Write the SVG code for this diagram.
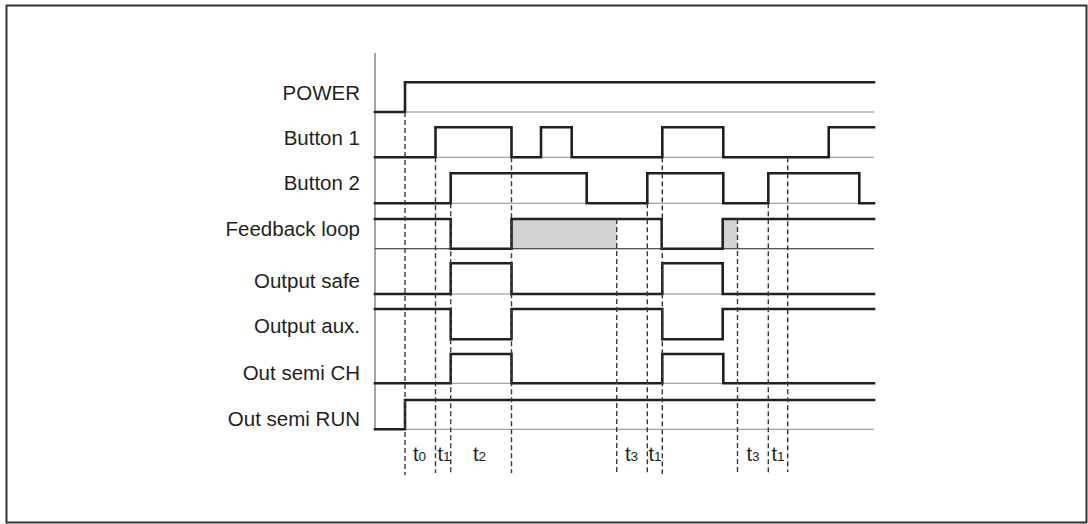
<svg xmlns="http://www.w3.org/2000/svg" width="1088" height="524" viewBox="0 0 1088 524">
<style>
.lbl{font-family:"Liberation Sans",Arial,sans-serif;font-size:20.5px;fill:#231f20;text-anchor:end}
.t{font-family:"Liberation Sans",Arial,sans-serif;font-size:20px;fill:#231f20}
.sub{font-size:13.5px}
.sig{fill:none;stroke:#231f20;stroke-width:2.6;stroke-linejoin:miter;stroke-linecap:square}
.base{fill:none;stroke:#8a8a8a;stroke-width:1.1}
.baseDark{fill:none;stroke:#231f20;stroke-width:1.1}
.dash{fill:none;stroke:#3a3a3a;stroke-width:1.4;stroke-dasharray:5 3}
.fill{fill:#d1d2d4;stroke:none}
</style>
<rect x="6.5" y="5.5" width="1080" height="517" fill="#ffffff" stroke="#333333" stroke-width="2"/>
<g id="axis"><path d="M375,53 V430" stroke="#777777" stroke-width="1.3" fill="none"/></g>

<g id="power">
<text class="lbl" x="360" y="100">POWER</text>
<path class="base" d="M405,112 H874"/>
<path class="sig" d="M375,112 H405 V82.3 H874"/>
</g>
<g id="button1">
<text class="lbl" x="360" y="145">Button 1</text>
<path class="base" d="M375,157.3 H874"/>
<path class="sig" d="M375,157.3 H435.5 V127.3 H511.5 V157.3 H541 V127.3 H571.7 V157.3 H662.3 V127.3 H723.3 V157.3 H828.7 V127.3 H874"/>
</g>
<g id="button2">
<text class="lbl" x="360" y="189.5">Button 2</text>
<path class="base" d="M375,203.3 H874"/>
<path class="sig" d="M375,203.3 H450.7 V173.3 H586.7 V203.3 H647.3 V173.3 H723.3 V203.3 H768.3 V173.3 H859.3 V203.3 H874"/>
</g>
<g id="feedback">
<text class="lbl" x="360" y="235.7">Feedback loop</text>
<rect class="fill" x="511.5" y="219" width="105.2" height="29.7"/>
<rect class="fill" x="722.7" y="219" width="14.8" height="29.7"/>
<path class="baseDark" d="M375,248.7 H874"/>
<path class="sig" d="M375,219 H450.7 V248.7 H511.5 V219 H661.7 V248.7 H722.7 V219 H874"/>
</g>
<g id="outputsafe">
<text class="lbl" x="360" y="288.3">Output safe</text>
<path class="base" d="M375,294 H874"/>
<path class="sig" d="M375,294 H450.7 V263.3 H511.5 V294 H662.3 V263.3 H722.7 V294 H874"/>
</g>
<g id="outputaux">
<text class="lbl" x="360" y="333.3">Output aux.</text>
<path class="sig" d="M375,309 H450.7 V339.3 H511.5 V309 H662.3 V339.3 H722.7 V309 H874"/>
</g>
<g id="outsemich">
<text class="lbl" x="360" y="380">Out semi CH</text>
<path class="base" d="M375,383.3 H874"/>
<path class="sig" d="M375,383.3 H450.7 V354 H511.5 V383.3 H662.3 V354 H723.3 V383.3 H874"/>
</g>
<g id="outsemirun">
<text class="lbl" x="360" y="425.7">Out semi RUN</text>
<path class="base" d="M405,429.3 H874"/>
<path class="sig" d="M375,429.3 H405 V400 H874"/>
</g>

<g id="connectors">
<path class="dash" d="M405,112 V475"/>
<path class="dash" d="M435.5,157.3 V473"/>
<path class="dash" d="M450.7,203.3 V475"/>
<path class="dash" d="M511.5,157.3 V473"/>
<path class="dash" d="M616.7,219 V475"/>
<path class="dash" d="M647.3,203.3 V475"/>
<path class="dash" d="M662.3,157.3 V474"/>
<path class="dash" d="M737.5,219 V475"/>
<path class="dash" d="M768.3,203.3 V475"/>
<path class="dash" d="M787.7,157.3 V472"/>
</g>

<g id="times">
<text class="t" x="413" y="461">t<tspan class="sub">0</tspan></text>
<text class="t" x="437.5" y="461">t<tspan class="sub">1</tspan></text>
<text class="t" x="473" y="461">t<tspan class="sub">2</tspan></text>
<text class="t" x="625" y="461">t<tspan class="sub">3</tspan></text>
<text class="t" x="648.5" y="461">t<tspan class="sub">1</tspan></text>
<text class="t" x="746.5" y="461">t<tspan class="sub">3</tspan></text>
<text class="t" x="771.5" y="461">t<tspan class="sub">1</tspan></text>
</g>
</svg>
